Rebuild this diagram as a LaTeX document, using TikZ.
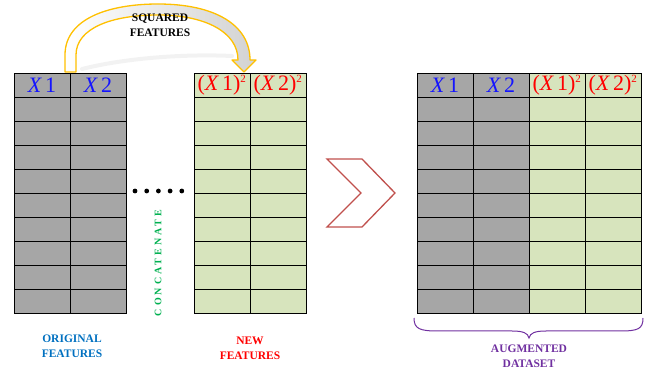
\documentclass[tikz,border=0pt]{standalone}
\usepackage{fontspec}
\setmainfont{Liberation Serif}
\newfontfamily\spaced[LetterSpace=30]{Liberation Serif}
\usetikzlibrary{calc}
\definecolor{cellgray}{RGB}{166,166,166}
\definecolor{cellgreen}{RGB}{215,228,189}
\definecolor{featblue}{RGB}{0,112,192}
\definecolor{xblue}{RGB}{20,20,255}
\definecolor{xred}{RGB}{255,0,0}
\definecolor{concgreen}{RGB}{0,176,80}
\definecolor{chevred}{RGB}{192,80,77}
\definecolor{augpurple}{RGB}{112,48,160}
\definecolor{arrowgold}{RGB}{255,192,0}
\tikzset{
  cell/.style={draw=black, line width=0.7pt, minimum width=56pt, minimum height=24pt, inner sep=0pt, outer sep=0pt},
  graycell/.style={cell, fill=cellgray},
  greencell/.style={cell, fill=cellgreen},
  hdrblue/.style={text=xblue, font=\fontsize{22}{22}\selectfont},
  hdrred/.style={text=xred, font=\fontsize{22}{22}\selectfont},
  lbl/.style={font=\fontsize{11.5}{15}\selectfont\bfseries, align=center},
}
\newcommand{\xone}{{\itshape X\,}1}
\newcommand{\xtwo}{{\itshape X\,}2}
\newcommand{\sqone}{(\xone)\textsuperscript{\fontsize{11}{11}\selectfont 2}}
\newcommand{\sqtwo}{(\xtwo)\textsuperscript{\fontsize{11}{11}\selectfont 2}}
\begin{document}
\begin{tikzpicture}[x=1pt,y=-1pt]
\useasboundingbox (0,0) rectangle (648,371);
% shadow of arrow
\draw[gray!20, line width=4pt, line cap=round, opacity=0.5] (82,69) .. controls (130,57) and (190,54) .. (232,56);
% squared-features arrow
\path[shading=axis, left color=white, right color=gray!35, draw=arrowgold, line width=1.3pt, line join=round]
  (65,72) -- (65,55) .. controls (65,18) and (110,4) .. (158,4)
  .. controls (215,4) and (250,25) .. (250,60) -- (256,60) -- (244,72) -- (232,60) -- (238,60)
  .. controls (238,32) and (205,15) .. (158,15)
  .. controls (112,15) and (76,28) .. (76,55) -- (76,72) -- cycle;
\node[lbl] (sq) at (160,25) {SQUARED\\FEATURES};
% tables
\foreach \i in {0,...,9} {
  \node[graycell] (o1-\i) at (42,{85+24*\i}) {};
  \node[graycell] (o2-\i) at (98,{85+24*\i}) {};
  \node[greencell] (n1-\i) at (222,{85+24*\i}) {};
  \node[greencell] (n2-\i) at (278,{85+24*\i}) {};
  \node[graycell] (a1-\i) at (445,{85+24*\i}) {};
  \node[graycell] (a2-\i) at (501,{85+24*\i}) {};
  \node[greencell] (a3-\i) at (557,{85+24*\i}) {};
  \node[greencell] (a4-\i) at (613,{85+24*\i}) {};
}
\node[hdrblue] (ho1) at (o1-0) {\xone};
\node[hdrblue] (ho2) at (o2-0) {\xtwo};
\node[hdrred] (hn1) at (n1-0) {\sqone};
\node[hdrred] (hn2) at (n2-0) {\sqtwo};
\node[hdrblue] (ha1) at (a1-0) {\xone};
\node[hdrblue] (ha2) at (a2-0) {\xtwo};
\node[hdrred] (ha3) at (a3-0) {\sqone};
\node[hdrred] (ha4) at (a4-0) {\sqtwo};
% dots
\foreach \k in {0,...,4} \fill (135+11.7*\k,191) circle (2.4pt);
% concatenate
\node[rotate=90, text=concgreen, font=\fontsize{10}{10}\selectfont\bfseries\spaced] (conc) at (158,263) {CONCATENATE};
% chevron
\draw[chevred, line width=1.3pt, line join=miter] (327,159) -- (362,159) -- (395,193) -- (362,227) -- (327,227) -- (361,193) -- cycle;
% labels
\node[lbl, text=featblue] (orig) at (72,346) {ORIGINAL\\FEATURES};
\node[lbl, text=xred] (newf) at (250,348) {NEW\\FEATURES};
\node[lbl, text=augpurple] (aug) at (529,356) {AUGMENTED\\DATASET};
% brace
\draw[augpurple, line width=1pt] (414,318) .. controls (414,329) and (420,331) .. (438,331) -- (512,331)
  .. controls (523,331) and (528,333) .. (529,338)
  .. controls (530,333) and (535,331) .. (546,331) -- (620,331)
  .. controls (638,331) and (643,329) .. (643,318);
\end{tikzpicture}
\end{document}
